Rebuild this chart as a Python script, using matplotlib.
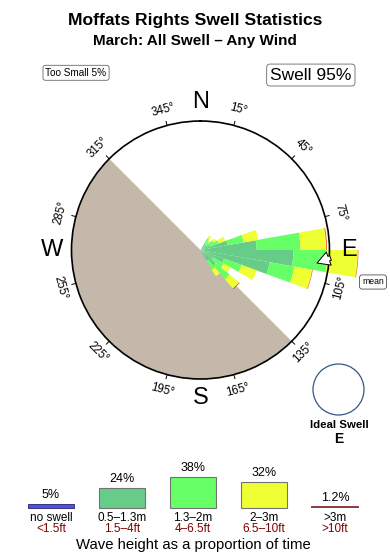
import numpy as np
import matplotlib
matplotlib.use('Agg')
import matplotlib.pyplot as plt
from matplotlib.patches import Circle

plt.rcParams['font.family'] = ['Liberation Sans', 'DejaVu Sans']

# swell rose: direction bins (deg, coming from) and % of time per height band
directions = [35, 45, 55, 65, 75, 85, 95, 105, 115, 125, 135, 145]
h_05_13 = [1.2, 0.9, 1.2, 1.6, 4.3, 8.7, 14.4, 10.9, 3.9, 2.3, 3.1, 1.9]
h_13_2 = [0.9, 0.8, 1.1, 1.4, 2.5, 6.8, 5.3, 3.9, 2.9, 1.9, 2.8, 1.6]
h_2_3 = [0.5, 0.3, 0.5, 1.1, 2.3, 4.0, 4.7, 2.8, 2.5, 1.2, 1.9, 1.2]
h_3_up = [0, 0, 0, 0, 0, 0.12, 0.08, 0.08, 0, 0, 0.12, 0]
r_max = 20
mean_dir = 95

# legend
leg_pct = [5, 24, 38, 32, 1.2]
leg_pct_txt = ['5%', '24%', '38%', '32%', '1.2%']
leg_m = ['no swell', '0.5\u20131.3m', '1.3\u20132m', '2\u20133m', '>3m']
leg_ft = ['<1.5ft', '1.5\u20134ft', '4\u20136.5ft', '6.5\u201310ft', '>10ft']

c_small = '#5050ee'
c1 = '#66cc88'
c2 = '#66ff66'
c3 = '#eeff33'
c4 = '#ee4411'
land = '#c4b8aa'

fig = plt.figure(figsize=(3.9, 5.6), dpi=100)

fig.text(0.5, 0.964, 'Moffats Rights Swell Statistics', ha='center', va='center',
         fontsize=12.6, fontweight='bold')
fig.text(0.5, 0.927, 'March: All Swell \u2013 Any Wind', ha='center', va='center',
         fontsize=11, fontweight='bold')
fig.text(0.195, 0.870, 'Too Small 5%', ha='center', va='center', fontsize=7.2,
         bbox=dict(boxstyle='round,pad=0.25', fc='white', ec='0.4', lw=0.6))
fig.text(0.797, 0.866, 'Swell 95%', ha='center', va='center', fontsize=12.5,
         bbox=dict(boxstyle='round,pad=0.2', fc='white', ec='0.4', lw=0.6))

ax = fig.add_axes([0.1833, 0.3232, 0.6615, 0.4607], projection='polar')
ax.set_theta_zero_location('N')
ax.set_theta_direction(-1)
ax.set_ylim(0, r_max)
ax.set_xticks([])
ax.set_yticks([])
ax.grid(False)
ax.spines['polar'].set_linewidth(1.2)
ax.spines['polar'].set_zorder(6)

# land
ax.bar(np.radians(225), r_max, width=np.radians(180), color=land, lw=0, zorder=1)

th = np.radians(directions)
w = np.radians(10)
bottom = np.zeros(len(directions))
for seg, c in [(h_05_13, c1), (h_13_2, c2), (h_2_3, c3), (h_3_up, c4)]:
    seg = np.array(seg)
    ax.bar(th, seg, width=w, bottom=bottom, color=c, lw=0, zorder=3, clip_on=False)
    bottom += seg

# ticks and labels
for b in range(15, 360, 30):
    t = np.radians(b)
    ax.plot([t, t], [r_max, r_max * 1.032], color='k', lw=0.7, clip_on=False, zorder=6)
    rot = ((-b + 90) % 180) - 90
    ax.text(t, r_max * 1.125, '%d\u00b0' % b, rotation=rot, rotation_mode='anchor',
            ha='center', va='center', fontsize=8.3)

for lab, b in [('N', 0), ('E', 90), ('S', 180), ('W', 270)]:
    ax.text(np.radians(b), r_max * 1.15, lab, ha='center', va='center', fontsize=17, zorder=7)

# mean direction arrow
ax.annotate('', xy=(np.radians(mean_dir + 2), r_max * 0.89),
            xytext=(np.radians(mean_dir - 2), r_max * 1.03),
            arrowprops=dict(arrowstyle='simple,head_width=1.0,head_length=0.9,tail_width=0.35',
                            fc='white', ec='black', lw=0.7), zorder=8, annotation_clip=False)
fig.text(373 / 390, 1 - 282 / 560, 'mean', ha='center', va='center', fontsize=6.2,
         bbox=dict(boxstyle='round,pad=0.3', fc='white', ec='0.3', lw=0.6))

# ideal swell
fig.add_artist(Circle((3.385, 1.705), 0.255, transform=fig.dpi_scale_trans,
                      fill=False, ec='#34558a', lw=0.9))
fig.text(339 / 390, 1 - 425 / 560, 'Ideal Swell', ha='center', va='center',
         fontsize=8.2, fontweight='bold')
fig.text(339 / 390, 1 - 439 / 560, 'E', ha='center', va='center',
         fontsize=10, fontweight='bold')

# height legend
lax = fig.add_axes([15.5 / 390, 0.005, 355 / 390, 0.1757])
lax.set_xlim(-0.5, 4.5)
lax.set_ylim(-60, 60)
lax.axis('off')
x = np.arange(5)
lax.bar(x[1:4], leg_pct[1:4], width=0.65, color=[c1, c2, c3], edgecolor='0.45', lw=0.8)
lax.bar(x[0], leg_pct[0], width=0.65, color=c_small, edgecolor='#222266', lw=0.6)
lax.plot([x[4] - 0.325, x[4] + 0.325], [leg_pct[4], leg_pct[4]], color='#8b3a3a', lw=1.4)
for i in range(5):
    lax.text(x[i], leg_pct[i] + 11, leg_pct_txt[i], ha='center', va='center', fontsize=9)
    lax.text(x[i], -12.5, leg_m[i], ha='center', va='center', fontsize=8.5)
    lax.text(x[i], -26, leg_ft[i], ha='center', va='center', fontsize=8.5,
             color='#800000')
lax.text(2, -45, 'Wave height as a proportion of time', ha='center', va='center', fontsize=10.7)

fig.savefig('out.png', dpi=100)
